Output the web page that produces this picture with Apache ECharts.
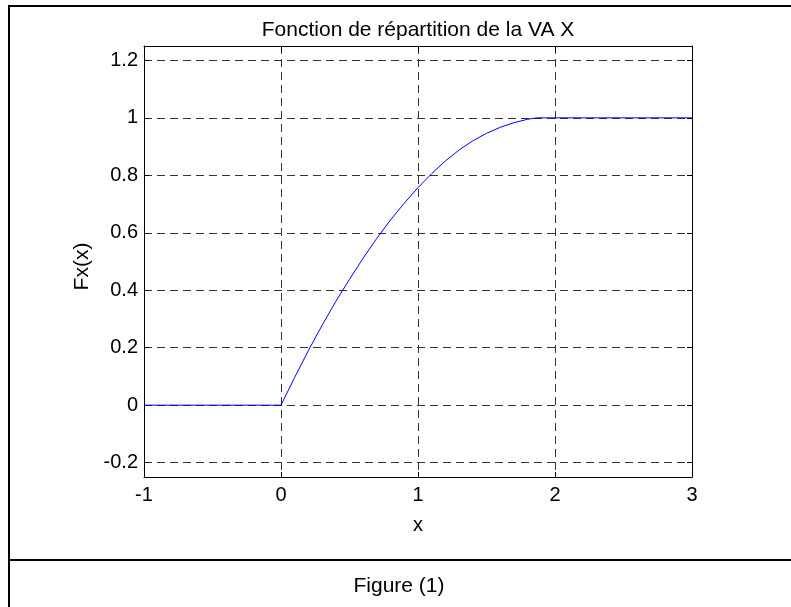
<!DOCTYPE html>
<html>
<head>
<meta charset="utf-8">
<script src="https://cdn.jsdelivr.net/npm/echarts@6/dist/echarts.min.js"></script>
<style>
html,body{margin:0;padding:0;background:#fff;}
#c{width:791px;height:607px;}
</style>
</head>
<body>
<div id="c"></div>
<script>
const titleText = 'Fonction de répartition de la VA X';
const xName = 'x';
const yName = 'Fx(x)';
const captionText = 'Figure (1)';
const xTicks = [-1, 0, 1, 2, 3];
const yTicks = [-0.2, 0, 0.2, 0.4, 0.6, 0.8, 1, 1.2];
const xs = [-1, 0, 0.1, 0.2, 0.3, 0.4, 0.5, 0.6, 0.7, 0.8, 0.9, 1.0, 1.1, 1.2, 1.3, 1.4, 1.5, 1.6, 1.7, 1.8, 1.87, 2, 3];
const ys = [0, 0, 0.097, 0.19, 0.278, 0.361, 0.438, 0.512, 0.581, 0.645, 0.703, 0.757, 0.806, 0.85, 0.888, 0.92, 0.946, 0.967, 0.983, 0.995, 1, 1, 1];

const font = 'Liberation Sans, Arial, sans-serif';
const gridLine = {show: true, lineStyle: {color: '#333', width: 1, type: [8, 5]}};
const chart = echarts.init(document.getElementById('c'), null, {renderer: 'canvas'});
const axisCommon = {
  axisLine: {show: true, onZero: false, lineStyle: {color: '#000', width: 1}},
};
const tickX = {show: true, inside: true, length: 5, lineStyle: {color: '#000'}, customValues: xTicks};
const tickY = {show: true, inside: true, length: 5, lineStyle: {color: '#000'}, customValues: yTicks};
chart.setOption({
  animation: false,
  backgroundColor: '#fff',
  grid: {left: 144, right: 99, top: 46, bottom: 130, containLabel: false},
  xAxis: [{
    type: 'value', min: -1, max: 3, interval: 1, position: 'bottom',
    name: xName, nameLocation: 'middle', nameGap: 38,
    nameTextStyle: {fontFamily: font, fontSize: 20, color: '#000'},
    ...axisCommon,
    axisTick: tickX,
    axisLabel: {show: true, margin: 8, fontFamily: font, fontSize: 20, color: '#000', customValues: xTicks},
    splitLine: gridLine
  }, {
    type: 'value', min: -1, max: 3, interval: 1, position: 'top',
    ...axisCommon,
    axisTick: tickX,
    axisLabel: {show: false}, splitLine: {show: false}
  }],
  yAxis: [{
    type: 'value', min: -0.25, max: 1.25, position: 'left',
    name: yName, nameLocation: 'middle', nameGap: 51,
    nameTextStyle: {fontFamily: font, fontSize: 21, color: '#000', padding: [0, 10, 0, 0]},
    ...axisCommon,
    axisTick: tickY,
    axisLabel: {show: true, margin: 6, fontFamily: font, fontSize: 20, color: '#000', customValues: yTicks},
    splitLine: gridLine
  }, {
    type: 'value', min: -0.25, max: 1.25, position: 'right',
    ...axisCommon,
    axisTick: tickY,
    axisLabel: {show: false}, splitLine: {show: false}
  }],
  graphic: [
    {type: 'rect', silent: true, z: 100,
      shape: {x: 9, y: 6, width: 820, height: 640},
      style: {fill: null, stroke: '#000', lineWidth: 2}},
    {type: 'line', silent: true, z: 100,
      shape: {x1: 9, y1: 560, x2: 800, y2: 560},
      style: {stroke: '#000', lineWidth: 2}},
    {type: 'text', silent: true, z: 100, x: 418, y: 30,
      style: {text: titleText, font: '21px ' + font, fill: '#000', align: 'center', verticalAlign: 'middle'}},
    {type: 'text', silent: true, z: 100, x: 399, y: 586,
      style: {text: captionText, font: '21px ' + font, fill: '#000', align: 'center', verticalAlign: 'middle'}}
  ],
  series: [{
    type: 'line',
    xAxisIndex: 0, yAxisIndex: 0,
    data: xs.map((x, i) => [x, ys[i]]),
    showSymbol: false, symbol: 'none', smooth: false,
    lineStyle: {color: '#0000ff', width: 1},
    z: 5
  }]
});
</script>
</body>
</html>
